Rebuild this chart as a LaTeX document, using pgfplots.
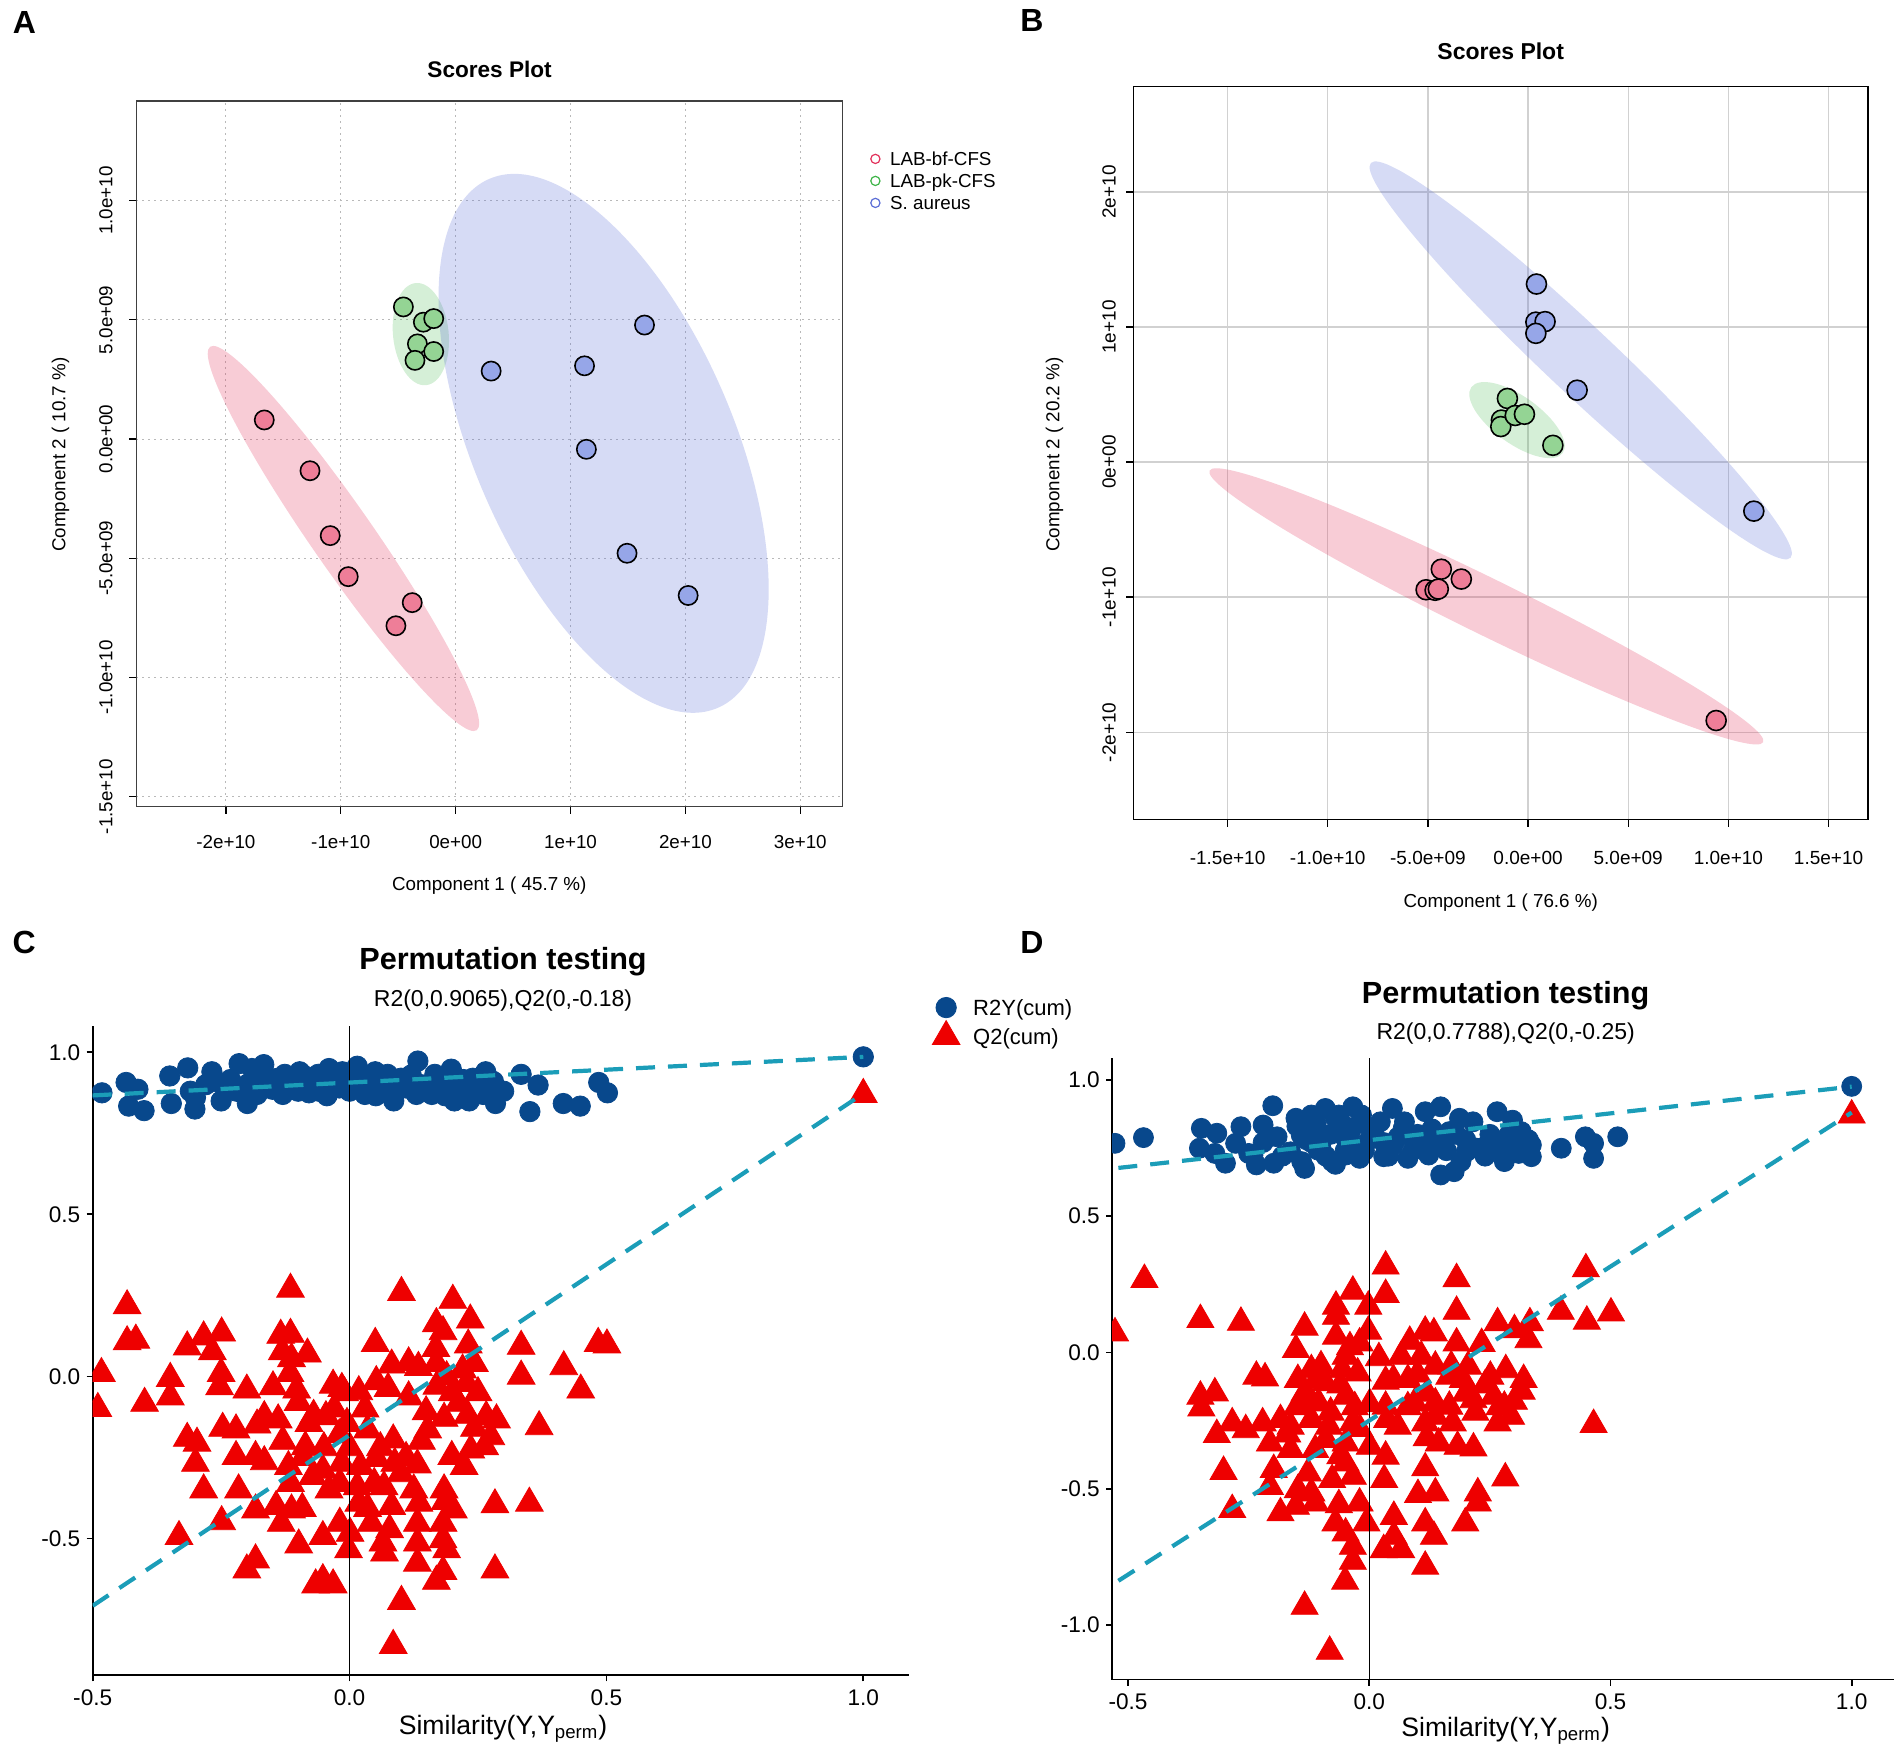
\documentclass[border=0pt]{standalone}
\usepackage{pgfplots}
\pgfplotsset{compat=1.18}
\usepackage{fontspec}
\setmainfont{Liberation Sans}

\definecolor{redL}{RGB}{226,50,92}
\definecolor{greenL}{RGB}{62,180,72}
\definecolor{blueL}{RGB}{92,110,214}
\definecolor{redP}{RGB}{238,126,152}
\definecolor{greenP}{RGB}{148,212,148}
\definecolor{blueP}{RGB}{150,166,232}
\definecolor{blueD}{RGB}{8,72,140}
\definecolor{redD}{RGB}{238,0,0}
\definecolor{teal}{RGB}{27,157,184}

% confidence ellipse: colour, cx, cy, semi-axis a (x,y), semi-axis b (x,y), opacity
\newcommand{\confell}[8]{%
  \pgfplotsextra{\begin{pgfscope}
    \pgfpathellipse{\pgfplotspointaxisxy{#2}{#3}}%
      {\pgfplotspointaxisdirectionxy{#4}{#5}}%
      {\pgfplotspointaxisdirectionxy{#6}{#7}}%
    \pgfsetfillcolor{#1}\pgfsetfillopacity{#8}\pgfusepath{fill}
  \end{pgfscope}}}

\pgfplotsset{
  every axis title shift=0pt,
  scores/.style={
    scale only axis, anchor=south west, clip mode=individual,
    xtick pos=bottom, ytick pos=left, tick align=outside,
    major tick length=3.5pt,
    tick style={black, line width=0.7pt},
    every tick label/.append style={font=\fontsize{9.4}{11}\selectfont, inner sep=0pt},
    label style={font=\fontsize{9.4}{11}\selectfont, inner sep=0pt},
    title style={font=\fontsize{11.3}{13}\selectfont\bfseries, inner sep=0pt},
    legend image code/.code={\draw[##1] plot coordinates {(0pt,0pt)};},
  },
  pts/.style={only marks, mark=*, mark size=4.8pt,
    mark options={draw=black, line width=0.8pt, fill=#1}, forget plot},
  perm/.style={
    scale only axis, anchor=south west, clip mode=individual,
    axis lines=left, axis line style={-, black, line width=0.9pt},
    tick align=outside, major tick length=3pt,
    tick style={black, line width=0.9pt},
    every tick label/.append style={font=\fontsize{11.3}{13}\selectfont, inner sep=0pt},
    xticklabel style={anchor=center, yshift=-8pt},
    yticklabel style={anchor=east, xshift=-3pt},
    xtick={-0.5,0,0.5,1}, xticklabels={-0.5,0.0,0.5,1.0},
    label style={font=\fontsize{13.3}{15}\selectfont, inner sep=0pt},
    title style={font=\fontsize{15.3}{17}\selectfont\bfseries, inner sep=0pt},
    clip marker paths=true,
    legend image code/.code={\draw[##1] plot coordinates {(0pt,0pt)};},
  },
  regline/.style={teal, line width=2.1pt, dash pattern=on 9.5pt off 6.5pt, forget plot},
}

\begin{document}
\begin{tikzpicture}
\useasboundingbox (0pt,0pt) rectangle (951pt,877pt);

% ---------------- A ----------------
\begin{axis}[scores,
  at={(68.15pt,473.6pt)}, width=352.95pt, height=352.95pt,
  xmin=-27.80, xmax=33.65, ymin=-15.42, ymax=14.18,
  xtick={-20,-10,0,10,20,30},
  xticklabels={-2e+10,-1e+10,0e+00,1e+10,2e+10,3e+10},
  ytick={-15,-10,-5,0,5,10},
  yticklabels={-1.5e+10,-1.0e+10,-5.0e+09,0.0e+00,5.0e+09,1.0e+10},
  xticklabel style={anchor=center, yshift=-14.1pt},
  yticklabel style={anchor=center, xshift=-11.65pt, rotate=90},
  axis line style={black!75, line width=0.7pt},
  grid=major, major grid style={gray!55, line width=0.5pt, dash pattern=on 1pt off 2pt},
  title={Scores Plot},
  title style={at={(axis description cs:0.5005,1.0449)}, anchor=center},
  xlabel={Component 1 ( 45.7 \%)},
  xlabel style={at={(axis description cs:0.5,-0.1122)}, anchor=center},
  ylabel={Component 2 ( 10.7 \%)},
  ylabel style={at={(axis description cs:-0.1072,0.4988)}, anchor=center},
  legend style={draw=none, fill=none, inner sep=0pt, outer sep=0pt,
    at={(axis description cs:1.0405,0.928)}, anchor=north west,
    font=\fontsize{9.4}{11}\selectfont, row sep=2pt,
    nodes={inner sep=0pt, text height=7pt, text depth=2pt},
    /tikz/every odd column/.style={column sep=5.1pt}},
  legend cell align=left,
  legend image post style={yshift=0.9pt},
]
\addlegendimage{only marks, mark=o, mark size=2.3pt, draw=redL, line width=0.6pt}
\addlegendimage{only marks, mark=o, mark size=2.3pt, draw=greenL, line width=0.6pt}
\addlegendimage{only marks, mark=o, mark size=2.3pt, draw=blueL, line width=0.6pt}
\confell{redL}{-9.77}{-4.17}{11.60}{-8.04}{2.22}{0.742}{0.25}
\confell{greenL}{-3.03}{4.40}{0.453}{-2.141}{2.411}{0.117}{0.22}
\confell{blueL}{12.88}{-0.18}{9.95}{-11.089}{10.368}{2.16}{0.25}
\addplot[pts=redP] coordinates {(-16.66,0.80) (-12.68,-1.33) (-10.92,-4.05) (-9.35,-5.77) (-3.78,-6.86) (-5.20,-7.83)};
\addplot[pts=greenP] coordinates {(-4.55,5.54) (-2.81,4.90) (-1.91,5.05) (-3.33,3.99) (-1.91,3.67) (-3.54,3.30)};
\addplot[pts=blueP] coordinates {(3.09,2.85) (11.22,3.07) (16.44,4.78) (11.38,-0.43) (14.92,-4.79) (20.24,-6.56)};
\legend{LAB-bf-CFS,LAB-pk-CFS,S. aureus}
\end{axis}

% ---------------- B ----------------
\begin{axis}[scores,
  at={(566.7pt,467.15pt)}, width=367.3pt, height=366.7pt,
  xmin=-19.70, xmax=16.97, ymin=-26.47, ymax=27.82,
  xtick={-15,-10,-5,0,5,10,15},
  xticklabels={-1.5e+10,-1.0e+10,-5.0e+09,0.0e+00,5.0e+09,1.0e+10,1.5e+10},
  ytick={-20,-10,0,10,20},
  yticklabels={-2e+10,-1e+10,0e+00,1e+10,2e+10},
  every tick label/.append style={font=\fontsize{9.5}{11}\selectfont},
  xticklabel style={anchor=center, yshift=-15.55pt},
  yticklabel style={anchor=center, xshift=-8.65pt, rotate=90},
  axis line style={black, line width=0.6pt},
  grid=major, major grid style={black!18, line width=0.7pt},
  title={Scores Plot},
  title style={at={(axis description cs:0.5,1.0473)}, anchor=center, font=\fontsize{11.5}{13}\selectfont\bfseries},
  xlabel={Component 1 ( 76.6 \%)},
  xlabel style={at={(axis description cs:0.5,-0.1128)}, anchor=center},
  ylabel={Component 2 ( 20.2 \%)},
  ylabel style={at={(axis description cs:-0.1075,0.4977)}, anchor=center},
]
\confell{redL}{-2.08}{-10.68}{13.82}{-10.05}{0.615}{1.861}{0.25}
\confell{greenL}{-0.55}{3.11}{2.281}{-2.435}{0.689}{1.414}{0.22}
\confell{blueL}{2.63}{7.53}{10.476}{-14.611}{1.163}{1.836}{0.25}
\addplot[pts=blueP, mark size=5pt] coordinates {(0.42,13.18) (0.39,10.36) (0.85,10.40) (0.39,9.53) (2.45,5.32) (11.27,-3.63)};
\addplot[pts=greenP, mark size=5pt] coordinates {(-1.03,4.71) (-1.33,3.11) (-1.36,2.63) (-0.64,3.45) (-0.18,3.54) (1.24,1.24)};
\addplot[pts=redP, mark size=5pt] coordinates {(-4.33,-7.93) (-3.33,-8.66) (-5.09,-9.45) (-4.64,-9.49) (-4.48,-9.40) (9.39,-19.13)};
\end{axis}

% ---------------- C ----------------
\begin{axis}[perm,
  at={(46.35pt,39.35pt)}, width=408.05pt, height=324.45pt,
  xmin=-0.5, xmax=1.0886, ymin=-0.922, ymax=1.080,
  ytick={-0.5,0,0.5,1}, yticklabels={-0.5,0.0,0.5,1.0},
  title={Permutation testing},
  title style={at={(axis description cs:0.5028,1.100)}, anchor=center},
  xlabel={Similarity(Y,Y\textsubscript{perm})},
  xlabel style={at={(axis description cs:0.5028,-0.082)}, anchor=center},
  legend style={draw=none, fill=none, inner sep=0pt, outer sep=0pt,
    at={(axis description cs:1.0288,1.0447)}, anchor=north west,
    font=\fontsize{11}{13}\selectfont, row sep=0.3pt,
    nodes={inner sep=0pt, text height=8pt, text depth=2.4pt},
    /tikz/every odd column/.style={column sep=6.6pt}},
  legend cell align=left,
  legend image post style={yshift=1pt},
]
\addplot[only marks, mark=*, mark size=5.1pt, color=blueD] coordinates {
(-0.482,0.875) (-0.435,0.907) (-0.412,0.886) (-0.430,0.834) (-0.400,0.820) (-0.350,0.927) (-0.347,0.842) (-0.315,0.952) (-0.301,0.825) (-0.268,0.940)
(-0.250,0.850) (-0.232,0.916) (-0.215,0.965) (-0.199,0.842) (-0.185,0.924) (-0.167,0.962) (-0.150,0.886) (-0.126,0.932) (-0.114,0.899) (-0.097,0.940)
(-0.079,0.875) (-0.061,0.932) (-0.044,0.866) (-0.026,0.916) (-0.014,0.940) (0.015,0.957) (0.033,0.899) (0.051,0.866) (0.074,0.932) (0.086,0.850)
(0.107,0.907) (0.133,0.973) (0.145,0.883) (0.166,0.932) (0.186,0.866) (0.198,0.948) (0.204,0.850) (0.222,0.916) (0.233,0.850) (0.251,0.899)
(0.265,0.940) (0.275,0.883) (0.284,0.842) (0.334,0.932) (0.367,0.899) (0.351,0.817) (0.416,0.842) (0.449,0.834) (0.485,0.907) (0.502,0.875)
(-0.28,0.90) (-0.22,0.88) (-0.16,0.91) (-0.10,0.88) (-0.05,0.90) (0.00,0.92) (0.00,0.88) (0.05,0.94) (0.09,0.90) (0.12,0.93)
(0.17,0.89) (0.21,0.89) (0.26,0.87) (-0.31,0.88) (-0.19,0.95) (-0.13,0.87) (0.24,0.92) (0.28,0.91) (-0.04,0.95) (0.13,0.87)
(-0.30,0.86) (-0.26,0.91) (-0.24,0.88) (-0.20,0.90) (-0.18,0.87) (-0.14,0.92) (-0.11,0.91) (-0.08,0.90) (-0.06,0.88) (-0.02,0.89)
(0.02,0.90) (0.04,0.92) (0.06,0.88) (0.08,0.87) (0.10,0.92) (0.14,0.90) (0.16,0.87) (0.19,0.91) (0.22,0.87) (0.25,0.89)
(0.27,0.92) (0.30,0.88) (0.11,0.89) (-0.09,0.93) (0.03,0.87)
(1.0,0.986)};
\addlegendentry{R2Y(cum)}
\addplot[only marks, mark=triangle*, mark size=8pt, color=redD] coordinates {
(-0.115,0.269) (0.101,0.259) (0.201,0.235) (-0.433,0.218) (-0.433,0.107) (-0.416,0.112) (-0.316,0.091) (-0.284,0.122) (-0.249,0.134) (-0.267,0.076)
(-0.134,0.127) (-0.115,0.130) (-0.131,0.076) (-0.082,0.069) (-0.113,0.055) (0.050,0.102) (0.169,0.163) (0.235,0.174) (0.182,0.138) (0.231,0.097)
(0.168,0.086) (0.334,0.093) (0.484,0.102) (0.501,0.097) (-0.483,0.009) (-0.349,-0.006) (0.417,0.030) (0.334,0.001) (0.450,-0.042) (-0.490,-0.099)
(-0.399,-0.083) (-0.349,-0.063) (-0.250,0.009) (-0.253,-0.032) (-0.200,-0.042) (-0.149,-0.032) (-0.103,-0.042) (-0.116,0.009) (-0.032,-0.027) (-0.015,-0.037)
(0.082,0.035) (0.115,0.042) (0.134,0.028) (0.169,0.040) (0.243,0.040) (0.228,-0.022) (0.189,-0.001) (0.018,-0.047) (0.052,-0.016) (0.075,-0.037)
(0.115,-0.063) (0.149,-0.109) (0.184,-0.129) (0.212,-0.083) (0.266,-0.124) (0.286,-0.134) (0.369,-0.155) (-0.166,-0.124) (-0.139,-0.134) (-0.079,-0.145)
(-0.046,-0.124) (-0.005,-0.145) (0.035,-0.165) (0.085,-0.196) (0.152,-0.165) (0.243,-0.160) (0.275,-0.186) (-0.316,-0.191) (-0.297,-0.206) (-0.247,-0.160)
(-0.221,-0.165) (-0.180,-0.150) (-0.300,-0.268) (-0.221,-0.247) (-0.183,-0.247) (-0.166,-0.263) (-0.119,-0.278) (-0.086,-0.217) (-0.052,-0.289) (-0.015,-0.268)
(0.021,-0.278) (0.052,-0.253) (0.088,-0.268) (0.132,-0.273) (0.199,-0.247) (0.223,-0.278) (0.236,-0.227) (0.263,-0.217) (-0.284,-0.350) (-0.216,-0.350)
(-0.115,-0.330) (-0.072,-0.309) (-0.019,-0.330) (0.015,-0.340) (0.048,-0.330) (0.067,-0.340) (0.125,-0.350) (0.184,-0.350) (-0.143,-0.401) (-0.092,-0.407)
(-0.113,-0.412) (0.018,-0.391) (0.035,-0.407) (0.082,-0.401) (0.135,-0.391) (0.186,-0.386) (0.202,-0.412) (0.283,-0.396) (0.350,-0.391) (-0.183,-0.412)
(-0.249,-0.448) (-0.332,-0.494) (-0.133,-0.453) (-0.052,-0.494) (-0.019,-0.453) (0.001,-0.484) (0.042,-0.453) (0.078,-0.473) (0.132,-0.453) (0.182,-0.453)
(-0.099,-0.520) (-0.002,-0.535) (0.065,-0.514) (0.068,-0.545) (0.132,-0.514) (0.182,-0.504) (0.189,-0.535) (-0.183,-0.566) (-0.200,-0.597) (0.283,-0.597)
(0.132,-0.576) (0.182,-0.602) (0.169,-0.632) (-0.052,-0.627) (-0.032,-0.643) (-0.066,-0.643) (0.101,-0.694) (0.085,-0.830)
(-0.03,-0.10) (-0.02,-0.18) (-0.05,-0.22) (-0.01,-0.05) (-0.07,-0.12) (0.00,-0.22) (-0.04,-0.35) (0.03,-0.10) (0.06,-0.22) (0.10,-0.30)
(0.11,-0.25) (-0.09,-0.25) (-0.13,-0.20) (-0.10,-0.08) (0.14,-0.20) (0.20,-0.05) (0.22,0.02) (0.17,-0.03) (0.25,-0.05) (0.23,-0.12)
(1.0,0.87)};
\addlegendentry{Q2(cum)}
\addplot[black, line width=0.6pt, forget plot] coordinates {(0,-0.922) (0,1.08)};
\addplot[regline] coordinates {(-0.5,0.867) (1.0,0.986)};
\addplot[regline] coordinates {(-0.5,-0.7075) (1.0,0.8725)};
\node[font=\fontsize{11.5}{13}\selectfont] at (axis description cs:0.5028,1.0391) {R2(0,0.9065),Q2(0,-0.18)};
\end{axis}

% ---------------- D ----------------
\begin{axis}[perm,
  at={(556.05pt,37.2pt)}, width=390.95pt, height=310.65pt,
  xmin=-0.533, xmax=1.0877, ymin=-1.200, ymax=1.079,
  ytick={-1,-0.5,0,0.5,1}, yticklabels={-1.0,-0.5,0.0,0.5,1.0},
  title={Permutation testing},
  title style={at={(axis description cs:0.5033,1.1011)}, anchor=center},
  xlabel={Similarity(Y,Y\textsubscript{perm})},
  xlabel style={at={(axis description cs:0.5033,-0.0827)}, anchor=center},
]
\addplot[only marks, mark=*, mark size=5pt, color=blueD] coordinates {
(-0.527,0.767) (-0.468,0.788) (-0.200,0.905) (-0.348,0.822) (-0.316,0.804) (-0.266,0.828) (-0.220,0.834) (-0.352,0.749) (-0.320,0.730) (-0.298,0.694)
(-0.277,0.767) (-0.241,0.724) (-0.234,0.688) (-0.198,0.694) (-0.191,0.791) (-0.163,0.736) (-0.152,0.859) (-0.134,0.675) (-0.120,0.871) (-0.106,0.810)
(-0.091,0.895) (-0.077,0.700) (-0.063,0.871) (-0.049,0.785) (-0.034,0.901) (-0.020,0.712) (-0.016,0.871) (-0.049,0.724) (-0.106,0.742) (-0.141,0.797)
(0.030,0.718) (0.023,0.846) (0.048,0.895) (0.073,0.846) (0.094,0.785) (0.116,0.883) (0.148,0.901) (0.123,0.724) (0.148,0.651) (0.176,0.663)
(0.187,0.859) (0.215,0.846) (0.166,0.810) (0.265,0.883) (0.297,0.852) (0.280,0.700) (0.244,0.761) (0.315,0.810) (0.336,0.761) (0.336,0.718)
(0.201,0.736) (0.080,0.712) (0.398,0.749) (0.448,0.791) (0.465,0.767) (0.465,0.712) (0.515,0.791)
(-0.10,0.75) (-0.05,0.83) (0.00,0.78) (0.05,0.76) (0.10,0.80) (0.15,0.77) (0.20,0.78) (0.25,0.80) (0.30,0.76) (-0.15,0.83)
(-0.03,0.75) (0.12,0.75) (0.27,0.74) (-0.12,0.77) (0.07,0.82)
(-0.18,0.72) (-0.14,0.70) (-0.13,0.78) (-0.11,0.84) (-0.09,0.72) (-0.08,0.80) (-0.07,0.86) (-0.05,0.74) (-0.04,0.80) (-0.02,0.84)
(-0.01,0.74) (0.01,0.82) (0.03,0.77) (0.04,0.72) (0.06,0.79) (0.09,0.74) (0.11,0.78) (0.13,0.82) (0.16,0.74) (0.18,0.80)
(0.19,0.70) (0.22,0.75) (0.24,0.72) (0.26,0.78) (0.29,0.80) (0.31,0.73) (0.33,0.78) (-0.22,0.77) (-0.25,0.73) (-0.07,0.69)
(1.0,0.976)};
\addplot[only marks, mark=triangle*, mark size=7.8pt, color=redD] coordinates {
(-0.466,0.267) (0.034,0.316) (0.181,0.270) (0.449,0.306) (-0.034,0.224) (0.034,0.212) (-0.069,0.169) (-0.002,0.169) (-0.069,0.132) (-0.350,0.120)
(-0.266,0.110) (0.181,0.150) (0.397,0.150) (0.501,0.144) (0.451,0.114) (-0.527,0.071) (-0.134,0.092) (-0.069,0.059) (-0.002,0.077) (0.266,0.108)
(0.301,0.083) (0.333,0.108) (0.116,0.077) (0.134,0.071) (0.084,0.040) (0.181,0.034) (0.233,0.032) (0.330,0.046) (-0.152,0.010) (-0.020,0.034)
(-0.049,-0.015) (0.066,-0.015) (0.108,-0.015) (0.137,-0.051) (0.205,-0.051) (0.283,-0.064) (-0.234,-0.088) (-0.216,-0.094) (-0.120,-0.064) (-0.148,-0.100)
(-0.091,-0.112) (-0.056,-0.064) (-0.024,-0.076) (0.034,-0.106) (0.080,-0.100) (0.166,-0.088) (0.194,-0.100) (0.251,-0.088) (0.316,-0.143) (0.258,-0.161)
(-0.350,-0.161) (-0.320,-0.149) (-0.348,-0.204) (-0.134,-0.149) (-0.105,-0.186) (-0.049,-0.161) (0.001,-0.189) (0.034,-0.198) (0.094,-0.186) (0.137,-0.186)
(0.166,-0.198) (0.216,-0.174) (0.280,-0.198) (0.294,-0.235) (0.465,-0.265) (-0.284,-0.259) (-0.256,-0.284) (-0.221,-0.259) (-0.184,-0.247) (-0.163,-0.271)
(-0.120,-0.247) (-0.084,-0.271) (-0.034,-0.259) (0.037,-0.247) (0.059,-0.271) (0.116,-0.259) (0.137,-0.235) (0.173,-0.259) (0.266,-0.259) (-0.316,-0.302)
(-0.206,-0.333) (-0.163,-0.357) (-0.112,-0.357) (-0.049,-0.333) (0.001,-0.345) (0.119,-0.314) (0.144,-0.333) (0.183,-0.345) (0.216,-0.351) (0.034,-0.381)
(-0.049,-0.406) (-0.198,-0.430) (-0.127,-0.443) (-0.302,-0.437) (0.116,-0.424) (-0.077,-0.467) (-0.034,-0.455) (0.031,-0.467) (0.282,-0.461) (-0.206,-0.492)
(-0.148,-0.504) (-0.120,-0.516) (0.101,-0.522) (0.137,-0.516) (0.225,-0.516) (-0.284,-0.577) (-0.184,-0.589) (-0.152,-0.565) (-0.112,-0.553) (-0.063,-0.559)
(-0.020,-0.553) (0.225,-0.553) (-0.070,-0.626) (-0.006,-0.626) (0.051,-0.602) (0.116,-0.626) (0.199,-0.626) (-0.049,-0.663) (0.051,-0.675) (0.134,-0.675)
(-0.034,-0.712) (0.030,-0.724) (0.066,-0.724) (-0.034,-0.767) (0.116,-0.785) (-0.050,-0.840) (-0.134,-0.932) (-0.082,-1.097)
(-0.10,-0.05) (-0.06,-0.12) (-0.03,-0.20) (-0.08,-0.22) (-0.12,-0.18) (0.02,-0.02) (0.05,-0.10) (0.10,-0.08) (0.12,-0.15) (0.20,-0.15)
(0.24,-0.12) (0.27,-0.20) (0.22,-0.22) (-0.15,-0.20) (-0.17,-0.30) (-0.02,-0.28) (-0.06,-0.38) (-0.09,-0.32) (0.08,-0.20) (0.17,-0.05)
(0.30,-0.18) (0.32,-0.10) (-0.04,0.02) (-0.11,-0.10)
(1.0,0.87)};
\addplot[black, line width=0.6pt] coordinates {(0,-1.2) (0,1.079)};
\addplot[regline] coordinates {(-0.52,0.6768) (1.0,0.975)};
\addplot[regline] coordinates {(-0.52,-0.8376) (1.0,0.88)};
\node[font=\fontsize{11.5}{13}\selectfont] at (axis description cs:0.5033,1.0402) {R2(0,0.7788),Q2(0,-0.25)};
\end{axis}

% panel letters
\node[font=\fontsize{16}{18}\selectfont\bfseries] at (12.25pt,865.85pt) {A};
\node[font=\fontsize{16}{18}\selectfont\bfseries] at (516pt,866.75pt) {B};
\node[font=\fontsize{16}{18}\selectfont\bfseries] at (12.1pt,405.85pt) {C};
\node[font=\fontsize{16}{18}\selectfont\bfseries] at (516pt,405.85pt) {D};
\end{tikzpicture}
\end{document}
